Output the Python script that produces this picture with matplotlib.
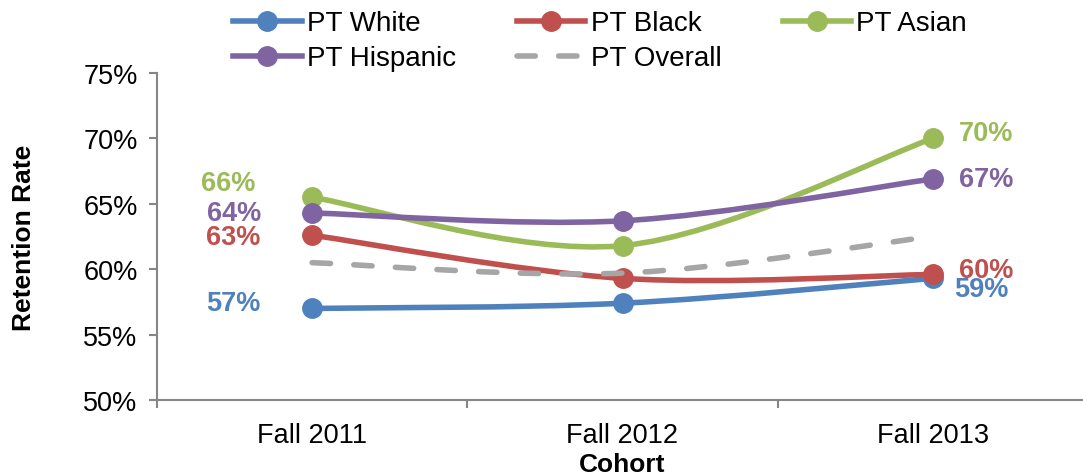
import numpy as np
import matplotlib.pyplot as plt
from matplotlib.path import Path
from matplotlib.patches import PathPatch
from matplotlib.lines import Line2D

plt.rcParams['font.family'] = ['Liberation Sans', 'DejaVu Sans']

# 数据
cohorts = ['Fall 2011', 'Fall 2012', 'Fall 2013']
pt_white = [57.0, 57.4, 59.3]
pt_black = [62.6, 59.3, 59.6]
pt_asian = [65.5, 61.8, 70.0]
pt_hispanic = [64.3, 63.7, 66.9]
pt_overall = [60.5, 59.7, 62.5]

series = [
    ('PT White', pt_white, '#4F81BD'),
    ('PT Black', pt_black, '#C0504D'),
    ('PT Asian', pt_asian, '#9BBB59'),
    ('PT Hispanic', pt_hispanic, '#8064A2'),
]

# 数据标签偏移 (points): 左端, 右端
label_offsets = {
    'PT White': ((-37, 4), (15, -8)),
    'PT Black': ((-37, -1.5), (19, 3.5)),
    'PT Asian': ((-41, 10), (19, 4)),
    'PT Hispanic': ((-37, 0), (19, 0)),
}

axis_gray = '#868686'
fs = 19.5
lw = 4.0
dash = (0, (3.3, 4.2))


def smooth_path(xs, ys):
    # 平滑曲线 (类似 Excel 的 Bezier 平滑)
    pts = np.column_stack([xs, ys]).astype(float)
    n = len(pts)
    verts = [pts[0]]
    codes = [Path.MOVETO]
    for i in range(n - 1):
        p0 = pts[i - 1] if i > 0 else pts[i]
        p1 = pts[i]
        p2 = pts[i + 1]
        p3 = pts[i + 2] if i + 2 < n else pts[i + 1]
        c1 = p1 + (p2 - p0) / 6.0
        c2 = p2 - (p3 - p1) / 6.0
        verts += [c1, c2, p2]
        codes += [Path.CURVE4] * 3
    return Path(verts, codes)


fig = plt.figure(figsize=(10.83, 4.77), dpi=100)
ax = fig.add_axes([157 / 1083, 1 - 401 / 477, (1088 - 157) / 1083, (401 - 74) / 477])
ax.spines['bottom'].set_bounds(-0.5, 2.5)

x = np.arange(len(cohorts))

handles = {}
z = 3
for name, vals, color in series:
    ax.add_patch(PathPatch(smooth_path(x, vals), fill=False, edgecolor=color,
                           lw=lw, capstyle='round', zorder=z))
    ax.plot(x, vals, linestyle='None', marker='o', markersize=14, color=color, zorder=z)
    z += 1
    handles[name] = Line2D([], [], color=color, lw=lw, marker='o', markersize=14)
    (lx, ly), (rx, ry) = label_offsets[name]
    ax.annotate(f'{vals[0]:.0f}%', (x[0], vals[0]), xytext=(lx, ly), textcoords='offset points',
                ha='right', va='center', fontsize=fs, fontweight='bold', color=color)
    ax.annotate(f'{vals[-1]:.0f}%', (x[-1], vals[-1]), xytext=(rx, ry), textcoords='offset points',
                ha='left', va='center', fontsize=fs, fontweight='bold', color=color)

# 总体 (虚线, 无标记)
ax.add_patch(PathPatch(smooth_path(x, pt_overall), fill=False, edgecolor='#A6A6A6',
                       lw=lw, linestyle=dash, capstyle='round', zorder=z))
handles['PT Overall'] = Line2D([], [], color='#A6A6A6', lw=lw, linestyle=dash,
                               dash_capstyle='round')

# 图例按行排列
order = ['PT White', 'PT Hispanic', 'PT Black', 'PT Overall', 'PT Asian']
fig.legend([handles[k] for k in order], order, ncol=3, loc='upper left',
           bbox_to_anchor=(214 / 1083, 1.017), frameon=False, fontsize=20,
           handlelength=2.45, handletextpad=0.2, columnspacing=2.2,
           labelspacing=0.32, borderpad=0.2)

ax.set_xlim(-0.5, 2.5)
ax.set_ylim(50, 75)
ax.set_yticks(np.arange(50, 76, 5))
ax.set_yticklabels([f'{v}%' for v in range(50, 76, 5)])
ax.set_xticks(x)
ax.set_xticklabels(cohorts)
ax.set_xticks([-0.5, 0.5, 1.5, 2.5], minor=True)

ax.tick_params(axis='y', direction='out', length=6, width=1.5, color=axis_gray,
               labelsize=fs, pad=8)
ax.tick_params(axis='x', which='major', length=0, labelsize=fs, pad=16)
ax.tick_params(axis='x', which='minor', direction='out', length=6, width=1.5, color=axis_gray)

for side in ['top', 'right']:
    ax.spines[side].set_visible(False)
for side in ['left', 'bottom']:
    ax.spines[side].set_color(axis_gray)
    ax.spines[side].set_linewidth(1.5)

ax.set_xlabel('Cohort', fontsize=19, fontweight='bold', labelpad=3)
ax.set_ylabel('Retention Rate', fontsize=19, fontweight='bold', labelpad=34)

fig.savefig('out.png', dpi=100)
